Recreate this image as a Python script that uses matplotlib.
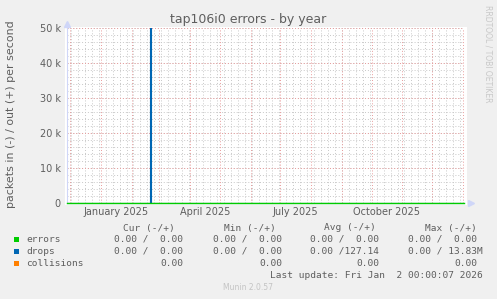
import matplotlib
matplotlib.use('Agg')
import matplotlib.pyplot as plt
from matplotlib.patches import Rectangle
import pandas as pd
import numpy as np

# Textes
title = 'tap106i0 errors - by year'
ylabel = 'packets in (-) / out (+) per second'
watermark = 'RRDTOOL / TOBI OETIKER'
last_update = 'Last update: Fri Jan  2 00:00:07 2026'
version = 'Munin 2.0.57'

# Periode affichee (400 jours)
start = pd.Timestamp('2024-11-28')
end = pd.Timestamp('2026-01-02')

# Series (out = positif, in = 0 partout)
drops_dates = pd.to_datetime(['2024-11-28', '2025-02-19', '2025-02-20', '2025-02-21', '2026-01-02'])
drops_out = [0, 0, 50800, 0, 0]
flat_dates = pd.to_datetime(['2024-11-28', '2026-01-02'])
errors_out = [0, 0]
collisions = [0, 0]

# Axes
ytick_values = [0, 10000, 20000, 30000, 40000, 50000]
ytick_labels = ['0', '10 k', '20 k', '30 k', '40 k', '50 k']
xlabel_months = pd.to_datetime(['2025-01-01', '2025-04-01', '2025-07-01', '2025-10-01'])
xlabel_texts = ['January 2025', 'April 2025', 'July 2025', 'October 2025']

# Legende
legend_names = ['errors', 'drops', 'collisions']
legend_colors = ['#00CC00', '#0066B3', '#FF8000']
headers = ['Cur (-/+)', 'Min (-/+)', 'Avg (-/+)', 'Max (-/+)']
cur_vals = ['0.00 /  0.00', '0.00 /  0.00', '0.00']
min_vals = ['0.00 /  0.00', '0.00 /  0.00', '0.00']
avg_vals = ['0.00 /  0.00', '0.00 /127.14', '0.00']
max_vals = ['0.00 /  0.00', '0.00 / 13.83M', '0.00']

W, H = 497, 299
font_col = '#5E5E5E'
axis_col = '#CFD6F8'
grid_minor = '#C8C8C8'
grid_major = '#E89C9C'


def fx(px):
    return px / W


def fy(py):
    return 1 - py / H


fig = plt.figure(figsize=(W / 100, H / 100), dpi=100, facecolor='#F0F0F0')

# fond blanc du canevas
fig.patches.append(Rectangle((fx(65), fy(205)), fx(402), 178 / H, transform=fig.transFigure,
                             facecolor='white', edgecolor='none', zorder=-1))

ax = fig.add_axes([fx(67), fy(203), fx(464 - 67), (203 - 28) / H])
ax.set_facecolor('white')
ax.set_xlim(start, end)
ax.set_ylim(0, 50000)

dots = (0, (1, 2))
for d in pd.date_range(start, end, freq='W-MON'):
    ax.axvline(d, color=grid_minor, ls=dots, lw=0.7, zorder=1)
for v in np.arange(0, 50001, 2000):
    ax.axhline(v, color=grid_minor, ls=dots, lw=0.7, zorder=1)
for d in pd.date_range(start, end, freq='MS'):
    ax.axvline(d, color=grid_major, ls=dots, lw=0.7, zorder=2)
for v in ytick_values:
    ax.axhline(v, color=grid_major, ls=dots, lw=0.7, zorder=2)

# courbes
ax.step(flat_dates, collisions, where='post', color=legend_colors[2], lw=0.75, zorder=3)
ax.step(drops_dates, drops_out, where='post', color=legend_colors[1], lw=0.8, zorder=4)
ax.step(flat_dates, errors_out, where='post', color=legend_colors[0], lw=1.0, zorder=5, clip_on=False)

ax.set_yticks(ytick_values)
ax.set_yticklabels(ytick_labels)
ax.set_xticks(xlabel_months + pd.Timedelta(days=15))
ax.set_xticklabels(xlabel_texts)
ax.tick_params(length=0, labelsize=7, labelcolor=font_col)
ax.tick_params(axis='y', pad=4.5)
ax.tick_params(axis='x', pad=3)

for s in ['top', 'right']:
    ax.spines[s].set_visible(False)
for s in ['left', 'bottom']:
    ax.spines[s].set_color(axis_col)
    ax.spines[s].set_linewidth(0.8)

# fleches des axes
ax.plot([0], [1.025], marker='^', ms=4.5, color=axis_col, transform=ax.transAxes, clip_on=False)
ax.plot([1.018], [0], marker='>', ms=4.5, color=axis_col, transform=ax.transAxes, clip_on=False)

fig.text(fx(248), fy(19), title, ha='center', va='center', fontsize=9, color=font_col)
fig.text(fx(11), fy(114), ylabel, ha='center', va='center', rotation=90, fontsize=7.9, color=font_col)
fig.text(fx(488), fy(5), watermark, ha='center', va='top', rotation=270, fontsize=5.5, color='#C8C8C8')

# tableau de legende
mono = 'DejaVu Sans Mono'
fs = 6.8
header_x = [174.5, 275.5, 375.5, 476.5]
for h, x in zip(headers, header_x):
    fig.text(fx(x), fy(228), h, ha='right', va='center', family=mono, fontsize=fs, color=font_col)

row_y = [239.5, 251.5, 263.5]
col_x = [183, 282, 379, 477]
for i, name in enumerate(legend_names):
    y = row_y[i]
    fig.patches.append(Rectangle((fx(14), fy(y + 2.5)), fx(5), 5 / H, transform=fig.transFigure,
                                 facecolor=legend_colors[i], edgecolor='none'))
    fig.text(fx(26.5), fy(y), name, ha='left', va='center', family=mono, fontsize=fs, color=font_col)
    for vals, x in zip([cur_vals, min_vals, avg_vals, max_vals], col_x):
        txt = vals[i]
        xr = x + 6 if txt.endswith('M') else x
        fig.text(fx(xr), fy(y), txt, ha='right', va='center', family=mono, fontsize=fs, color=font_col)

fig.text(fx(483), fy(276), last_update, ha='right', va='center', family=mono, fontsize=fs, color=font_col)
fig.text(fx(248), fy(288), version, ha='center', va='center', fontsize=5.5, color='#C4C4C4')

fig.savefig('out.png', dpi=100, facecolor=fig.get_facecolor())
